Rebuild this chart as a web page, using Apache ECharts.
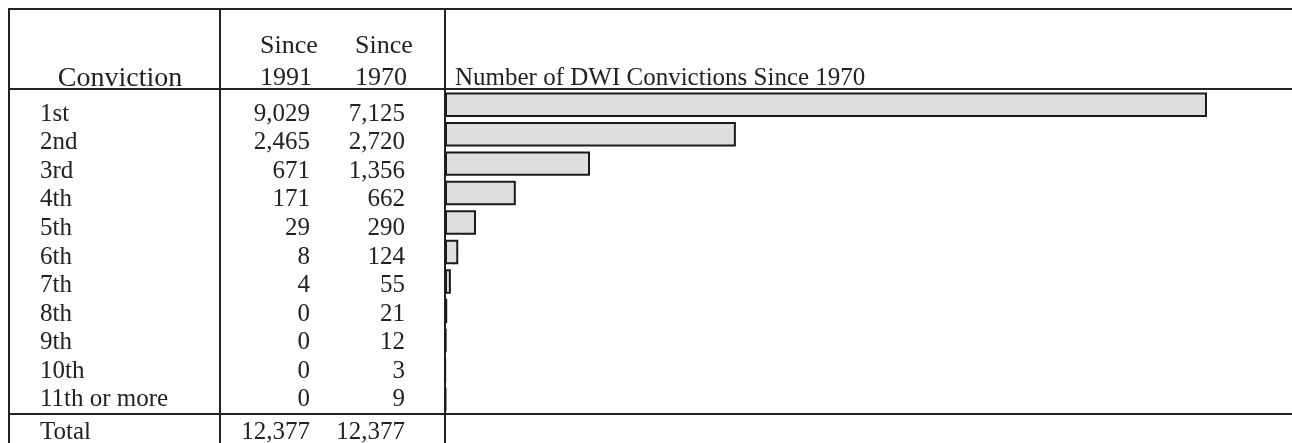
<!DOCTYPE html>
<html>
<head>
<meta charset="utf-8">
<script src="https://cdn.jsdelivr.net/npm/echarts@6/dist/echarts.min.js"></script>
<style>
  html, body { margin: 0; padding: 0; background: #fff; }
  #chart { width: 1292px; height: 443px; }
</style>
</head>
<body>
<div id="chart"></div>
<script>
// 表格数据
const convictions = ['1st', '2nd', '3rd', '4th', '5th', '6th', '7th', '8th', '9th', '10th', '11th or more']
const since1991 = [9029, 2465, 671, 171, 29, 8, 4, 0, 0, 0, 0]
const since1970 = [7125, 2720, 1356, 662, 290, 124, 55, 21, 12, 3, 9]
const totalLabel = 'Total'
const totals = [12377, 12377]
const headers = ['Conviction', 'Since\n1991', 'Since\n1970']
const chartTitle = 'Number of DWI Convictions Since 1970'

const FONT = '"Liberation Serif", "Times New Roman", serif'
const INK = '#222'
const fmt = v => v.toLocaleString('en-US')

// 表格线
function hLine(y) {
  return { type: 'line', shape: { x1: 8, y1: y, x2: 1292, y2: y }, style: { stroke: INK, lineWidth: 2 } }
}
function vLine(x) {
  return { type: 'line', shape: { x1: x, y1: 9, x2: x, y2: 443 }, style: { stroke: INK, lineWidth: 2 } }
}
function txt(x, y, text, align, size) {
  return {
    type: 'text', x: x, y: y,
    style: { text: text, fill: INK, font: size + 'px ' + FONT, align: align, verticalAlign: 'bottom', lineHeight: 32 }
  }
}

// 文字列 (y轴标签)
function textAxis(data, x, align) {
  return {
    type: 'category', gridIndex: 1, inverse: true, data: data,
    position: 'left', offset: -(x - 9),
    axisLine: { show: false }, axisTick: { show: false }, splitLine: { show: false },
    axisLabel: { interval: 0, margin: 0, align: align, color: INK, fontFamily: FONT, fontSize: 25 }
  }
}

const option = {
  animation: false,
  backgroundColor: '#fff',
  grid: [
    { left: 445, right: 0, top: 90, bottom: 29 },
    { left: 9, width: 436, top: 100, bottom: 29 }
  ],
  xAxis: [
    { type: 'value', gridIndex: 0, min: 0, max: 7920, show: false },
    { type: 'value', gridIndex: 1, show: false }
  ],
  yAxis: [
    {
      type: 'category', gridIndex: 0, inverse: true, data: convictions,
      axisLine: { show: false }, axisTick: { show: false }, axisLabel: { show: false }
    },
    textAxis(convictions, 40, 'left'),
    textAxis(since1991.map(fmt), 310, 'right'),
    textAxis(since1970.map(fmt), 405, 'right')
  ],
  series: [{
    type: 'bar',
    xAxisIndex: 0, yAxisIndex: 0,
    data: since1970,
    barCategoryGap: '17%',
    itemStyle: { color: '#dedede', borderColor: '#1a1a1a', borderWidth: 2 }
  }],
  graphic: [
    hLine(9), hLine(89), hLine(414),
    vLine(9), vLine(220), vLine(445),
    txt(120, 95, headers[0], 'center', 28),
    txt(260, 94, headers[1], 'left', 26),
    txt(355, 94, headers[2], 'left', 26),
    txt(455, 94, chartTitle, 'left', 25),
    txt(40, 448, totalLabel, 'left', 25),
    txt(310, 448, fmt(totals[0]), 'right', 25),
    txt(405, 448, fmt(totals[1]), 'right', 25)
  ]
}

const chart = echarts.init(document.getElementById('chart'))
chart.setOption(option)
</script>
</body>
</html>
